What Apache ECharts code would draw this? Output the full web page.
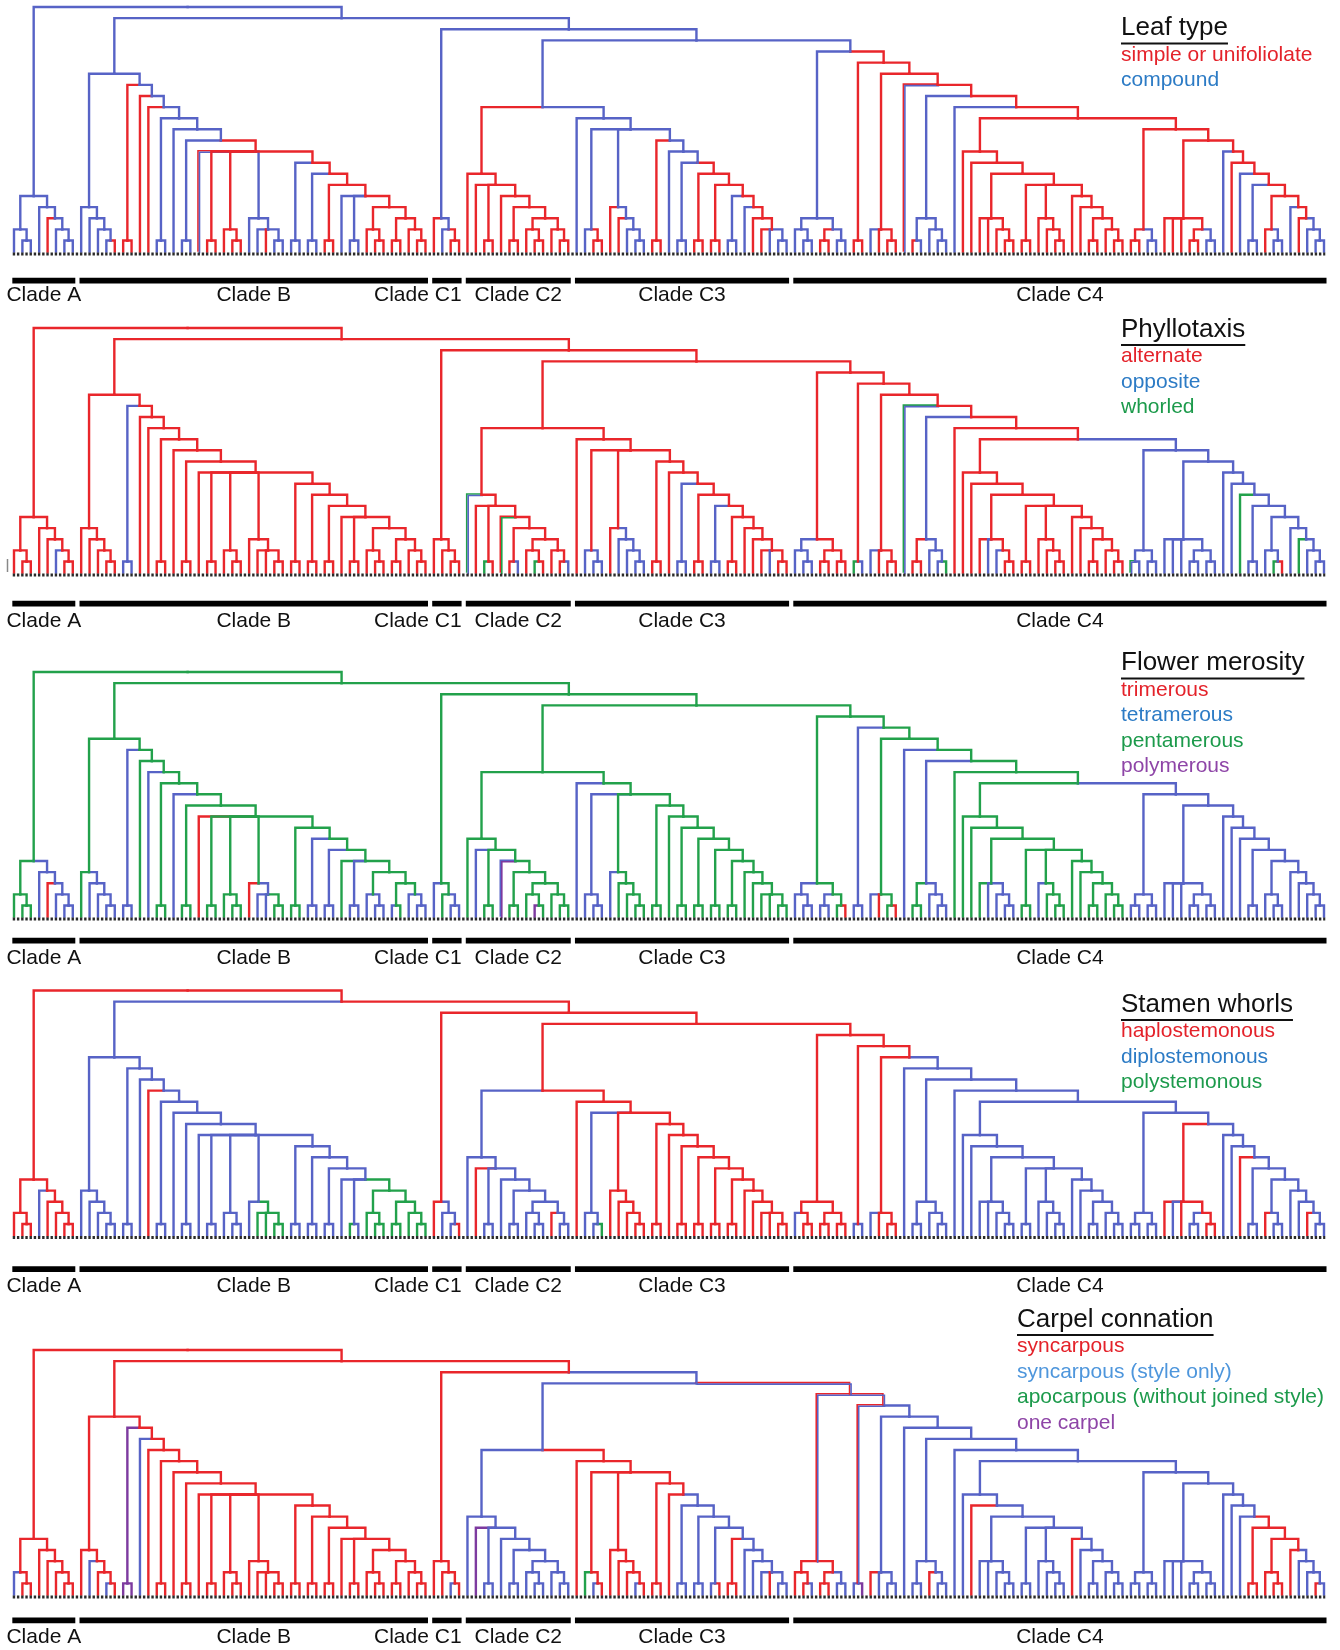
<!DOCTYPE html>
<html>
<head>
<meta charset="utf-8">
<title>Character reconstructions</title>
<script src="https://cdn.jsdelivr.net/npm/echarts@6/dist/echarts.min.js"></script>
<style>
html,body{margin:0;padding:0;background:#fff}
#main{width:1340px;height:1650px}
</style>
</head>
<body>
<div id="main"></div>
<script>
// ---- tree topology (tips numbered left to right) ----
const cladeA = '((0,(1,2)),(3,(4,(5,(6,7)))))'
const cladeB1 = '(8,(9,(10,(11,12))))'
const cladeB_R4 = '((42,(43,44)),((45,46),(47,(48,49))))'
const cladeB_L5 = '(39,(40,41),' + cladeB_R4 + ')'
const cladeB_L8 = '((33,34),((35,36),((37,38),' + cladeB_L5 + ')))'
const cladeB_P9 = '(22,(23,24),(25,(26,27)),(28,(29,30,(31,32))),' + cladeB_L8 + ')'
const cladeB2 = '((13,14),(15,(16,((17,18),(19,((20,21),' + cladeB_P9 + '))))))'
const cladeB = '(' + cladeB1 + ',' + cladeB2 + ')'
const cladeC1 = '(50,(51,(52,53)))'
const cladeC2 = '(54,(55,(56,57),(58,((59,60),((61,(62,63)),(64,(65,66)))))))'
const c3Tail = '((85,86),(87,(88,(89,90,(91,92)))))'
const c3Spine = '((76,77),(78,((79,80),((81,82),((83,84),' + c3Tail + ')))))'
const cladeC3 = '(67,((68,(69,70)),(71,(72,(73,(74,75)))),' + c3Spine + '))'
const c4First = '((93,(94,95)),((96,97),(98,99)))'
const c4P3 = '(115,116,(117,(118,119)))'
const c4P6 = '((120,121),(122,(123,(124,125))),(126,(127,((128,129),(130,(131,132))))))'
const c4L9a = '(113,(114,(' + c4P3 + ',' + c4P6 + ')))'
const c4P3b = '(137,138,139,((140,141),(142,143)))'
const c4L5b = '((149,(150,151)),(152,(153,(154,(155,156)))))'
const c4L9b = '(144,(145,(146,((147,148),' + c4L5b + '))))'
const c4L11b = '(((133,134),(135,136)),(' + c4P3b + ',' + c4L9b + '))'
const c4L14 = '(((107,108),(109,(110,111))),(112,(' + c4L9a + ',' + c4L11b + ')))'
const c4L16 = '((102,103,(104,105)),(106,' + c4L14 + '))'
const cladeC4 = '(' + c4First + ',((100,101),' + c4L16 + '))'
const cladeC = '(' + cladeC1 + ',((' + cladeC2 + ',' + cladeC3 + '),' + cladeC4 + '))'
const treeText = '(' + cladeA + ',(' + cladeB + ',' + cladeC + '))'

// clade bars under each tree
const cladeNames = ['Clade A','Clade B','Clade C1','Clade C2','Clade C3','Clade C4']
const cladeFirst = [0, 8, 50, 54, 67, 93]
const cladeLast = [7, 49, 53, 66, 92, 156]

// ---- branch colours per character: [tips of clade, state, 'stem' = only that branch] ----
const leafDefault = 'b'
const leafPaint = [['4','r'],['12','r'],['13-14','r'],['15','r'],['16','r'],['22-49','r'],['22','rb'],
  ['28-32','b'],['30','r'],['33-34','b'],['35-36','b'],['39','b'],['40-41','b'],
  ['50','r'],['52-53','r'],['54-66','r'],
  ['69-70','r'],['71','r'],['72','r'],['76-77','r'],['81-92','r'],['85-86','b'],['87','b'],['90','b'],['91-92','b'],
  ['96-97','r'],['100-156','r'],['102','b'],['106','rb'],['107-111','b'],['107','r'],['112','b'],['135-136','b'],
  ['142-143','b'],['144','b'],['146','b'],['147-148','b'],['150-151','b'],['152','b'],['154-156','b']]

const phylloDefault = 'r'
const phylloPaint = [['5','b'],['13-14','b'],['54','gb'],['56','g'],['58','rg'],['60','b'],['62','g'],['66','b'],
  ['68','b'],['69-70','b'],['72-75','b'],['79-80','b'],['83-84','b'],['90','b'],
  ['93-95','b'],['100','g'],['101','b'],['102','b'],['106','gb'],['107-111','b'],['107-108','r'],['111','g'],
  ['116','b'],['117','b'],['133-156','b'],['133','gb'],['146','g'],['150','g'],['151','r'],['153','g']]

const meroDefault = 'g'
const meroPaint = [['3-7','b'],['4','r'],['9-12','b'],['13-14','b'],['16','b'],['19','b'],['22','r'],['28','r'],
  ['29-32','b'],['31-32','g'],['35-36','b'],['37-38','b'],['40-41','b'],['42','b'],['43-44','b'],['45','b'],
  ['47','b'],['48-49','b'],['50','b'],['52-53','b'],['55','b'],['58','bp'],['62','p'],
  ['67','b'],['68-70','b'],['71','b'],
  ['93-95','b'],['96-97','b'],['99','r'],['100-101','b'],['102','b'],['103','r'],['105','r'],['106','b'],
  ['107-111','b'],['107-108','g'],['116','b'],['117-119','b'],['122','b'],['133-156','b']]

const stamenDefault = 'r'
const stamenPaint = [['3','b'],['8-49','b'],['16','r'],['29-32','g'],['40','g'],['42-49','g'],
  ['51-53','b'],['53','r'],['54-66','b'],['55','r'],['64','r'],['68-70','b'],['70','g'],
  ['93','b'],['100','b'],['101','b'],['102','b'],['106-156','b'],['137-143','r'],['138','b'],['140-141','b'],
  ['146','r'],['149','r'],['154','r']]

const carpelDefault = 'r'
const carpelPaint = [['0','b'],['9','b'],['11','b'],['13-14','p'],['15','b'],['52','b'],
  ['54-156','b'],['55','p'],['67-92','r'],['68','g'],['69','b'],['74','b'],['79-92','b'],['84','r'],['85-86','r'],['90','r'],
  ['93-156','rb','stem'],['93-99','r'],['93-99','rb','stem'],['95','b'],['98-99','b'],['100-156','rb','stem'],
  ['100-101','rb','stem'],['101','p'],['102','r'],['109','r'],['114','r'],['126','r'],['147-156','r'],['153-156','b'],['155','r']]

// legends
const legendTitles = ['Leaf type','Phyllotaxis','Flower merosity','Stamen whorls','Carpel connation']
const legendItems = [
  ['simple or unifoliolate','compound'],
  ['alternate','opposite','whorled'],
  ['trimerous','tetramerous','pentamerous','polymerous'],
  ['haplostemonous','diplostemonous','polystemonous'],
  ['syncarpous','syncarpous (style only)','apocarpous (without joined style)','one carpel']]
const legendStates = [['r','b'],['r','b','g'],['r','b','g','p'],['r','b','g'],['r','lb','g','p']]

// ---- styles / layout ----
const lineColor = {r:'#e9262b', b:'#5763c6', g:'#22a14b', p:'#7d3a9f'}
const textColor = {r:'#e4222a', b:'#2c7bc5', lb:'#4e96dc', g:'#1c9a4b', p:'#8e45a7'}
const FONT = '"Liberation Sans", Arial, Helvetica, sans-serif'
const STEP = 11.12
const rootY = [7, 328, 672, 990.5, 1350]
const barDy = [29, 31, 24, 34, 26]
const labelDy = [44, 49, 42, 51, 43]
const legendX = [1121, 1121, 1121, 1121, 1017]
const titleY = [30, 331.5, 665, 1006.5, 1321.5]

// ---- parse and lay out the tree ----
function parseTree(s){
  let i = 0
  function node(){
    if(s[i] === '('){
      i++
      const kids = []
      while(true){
        kids.push(node())
        if(s[i] === ','){ i++; continue }
        if(s[i] === ')'){ i++; break }
      }
      return {kids: kids}
    }
    let j = i
    while(i < s.length && /[0-9]/.test(s[i])) i++
    return {tip: +s.slice(j, i)}
  }
  return node()
}

const nodes = []
function walk(n, parent){
  n.parent = parent
  if(n.kids){
    n.kids.forEach(k => walk(k, n))
    n.level = 1 + Math.max.apply(null, n.kids.map(k => k.level))
    n.x = (n.kids[0].x + n.kids[n.kids.length - 1].x) / 2
    n.lo = n.kids[0].lo
    n.hi = n.kids[n.kids.length - 1].hi
  } else {
    n.level = 0
    n.x = n.tip
    n.lo = n.hi = n.tip
  }
  n.id = nodes.length
  nodes.push(n)
}
const root = parseTree(treeText)
walk(root, null)
const branches = nodes.filter(n => n.parent)
const maxLevel = root.level
const lastTip = cladeLast[cladeLast.length - 1]

function paintSub(n, code, col){
  col[n.id] = code
  if(n.kids) n.kids.forEach(k => paintSub(k, code, col))
}
function paintPanel(base, ops){
  const col = nodes.map(() => base)
  ops.forEach(op => {
    const parts = op[0].split('-').map(Number)
    const a = parts[0], b = parts.length > 1 ? parts[1] : parts[0]
    const n = nodes.find(m => m.lo === a && m.hi === b && (a !== b || !m.kids))
    if(!n){ console.warn('no clade', op[0]); return }
    if(op[2] === 'stem') col[n.id] = op[1]
    else paintSub(n, op[1], col)
  })
  return col
}

const panelColors = [
  paintPanel(leafDefault, leafPaint),
  paintPanel(phylloDefault, phylloPaint),
  paintPanel(meroDefault, meroPaint),
  paintPanel(stamenDefault, stamenPaint),
  paintPanel(carpelDefault, carpelPaint)]

// ---- chart ----
let chart = echarts.init(document.getElementById('main'), null, {renderer: 'canvas'})
let grid = [], xAxis = [], yAxis = [], series = [], graphic = []

rootY.forEach((top, k) => {
  grid.push({left: 14, right: 16, top: top, height: (maxLevel + 5) * STEP})
  xAxis.push({type: 'value', gridIndex: k, min: 0, max: lastTip, show: false})
  yAxis.push({type: 'value', gridIndex: k, min: -5, max: maxLevel, show: false})
  const colors = panelColors[k]

  // branches
  series.push({
    type: 'custom', xAxisIndex: k, yAxisIndex: k, silent: true, clip: false,
    encode: {x: [0, 2], y: [1, 3]},
    data: branches.map(n => [n.x, n.level, n.parent.x, n.parent.level]),
    renderItem: function(params, api){
      const n = branches[params.dataIndex]
      const a = api.coord([api.value(0), api.value(1)])
      const b = api.coord([api.value(0), api.value(3)])
      const c = api.coord([api.value(2), api.value(3)])
      const code = colors[n.id]
      const line = (pts, s, w) => ({type: 'polyline', shape: {points: pts},
        style: {stroke: lineColor[s], lineWidth: w, fill: null, lineJoin: 'miter', lineCap: 'square'}})
      if(code.length === 1) return line([a, b, c], code, 2.4)
      const shift = d => [a, b, c].map(p => [p[0] + d, p[1] + d])
      return {type: 'group', children: [line(shift(-0.75), code[0], 1.6), line(shift(0.75), code[1], 1.6)]}
    }
  })

  // dotted tip row
  series.push({
    type: 'line', xAxisIndex: k, yAxisIndex: k, silent: true, symbol: 'none',
    data: [[-0.15, -0.22], [lastTip + 0.15, -0.22]],
    lineStyle: {color: '#2a2a2a', width: 3, type: [2.4, 1.8]}
  })

  // clade bars and names
  const barLevel = -barDy[k] / STEP, labLevel = -labelDy[k] / STEP
  series.push({
    type: 'custom', xAxisIndex: k, yAxisIndex: k, silent: true, clip: false,
    data: cladeNames.map((nm, i) => [cladeFirst[i] - 0.2, cladeLast[i] + 0.3, barLevel, labLevel]),
    renderItem: function(params, api){
      const i = params.dataIndex
      const p0 = api.coord([api.value(0), api.value(2)])
      const p1 = api.coord([api.value(1), api.value(2)])
      const ly = api.coord([0, api.value(3)])[1]
      const right = cladeNames[i] === 'Clade C1'
      return {type: 'group', children: [
        {type: 'rect', shape: {x: p0[0], y: p0[1] - 2.8, width: p1[0] - p0[0], height: 5.6}, style: {fill: '#000'}},
        {type: 'text', style: {text: cladeNames[i], x: right ? p1[0] : (p0[0] + p1[0]) / 2, y: ly,
          font: '21px ' + FONT, fill: '#111', align: right ? 'right' : 'center', verticalAlign: 'middle'}}
      ]}
    }
  })

  // legend
  const ctx = document.createElement('canvas').getContext('2d')
  ctx.font = '26px ' + FONT
  const tw = ctx.measureText(legendTitles[k]).width
  graphic.push({type: 'text', left: legendX[k], top: titleY[k] - 15,
    style: {text: legendTitles[k], font: '26px ' + FONT, fill: '#111'}})
  graphic.push({type: 'line', shape: {x1: legendX[k], y1: titleY[k] + 13.5, x2: legendX[k] + tw, y2: titleY[k] + 13.5},
    style: {stroke: '#111', lineWidth: 2}})
  legendItems[k].forEach((t, j) => {
    graphic.push({type: 'text', left: legendX[k], top: titleY[k] + 26.5 + j * 25.5 - 12,
      style: {text: t, font: '21px ' + FONT, fill: textColor[legendStates[k][j]]}})
  })
})

// small stray tick at the left of the second tree
graphic.push({type: 'line', shape: {x1: 7.5, y1: 559, x2: 7.5, y2: 572}, style: {stroke: '#888', lineWidth: 1.5}})

chart.setOption({
  animation: false,
  backgroundColor: '#fff',
  grid: grid, xAxis: xAxis, yAxis: yAxis,
  series: series,
  graphic: graphic
})
</script>
</body>
</html>
